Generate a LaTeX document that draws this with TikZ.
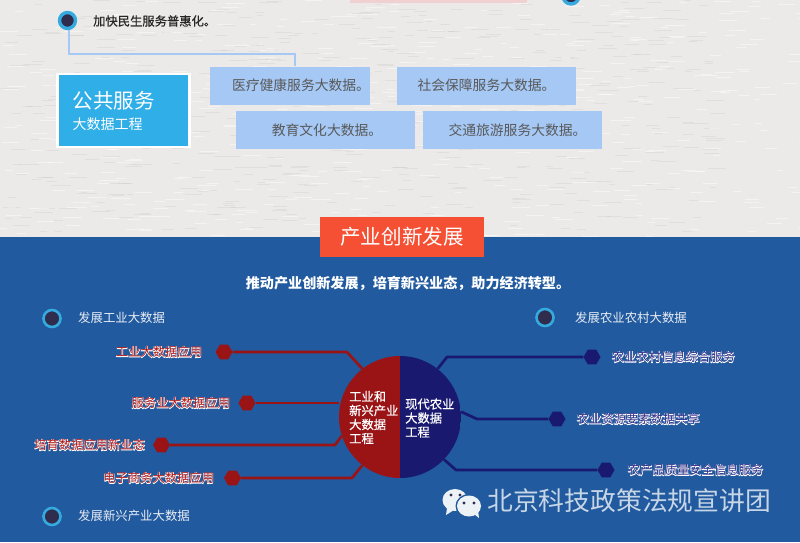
\documentclass[tikz,border=0pt]{standalone}
\usepackage{fontspec}
\setmainfont{Noto Sans CJK SC}
\newfontfamily\halofont[FakeBold=7]{Noto Sans CJK SC}
\newfontfamily\semifont[FakeBold=0.5]{Noto Sans CJK SC}
\usetikzlibrary{positioning, shapes.geometric, calc}
\definecolor{paperbg}{RGB}{235, 234, 232}
\definecolor{bandblue}{RGB}{33, 90, 159}
\definecolor{skyblue}{RGB}{48, 174, 232}
\definecolor{paleblue}{RGB}{165, 200, 245}
\definecolor{hubred}{RGB}{154, 20, 22}
\definecolor{hubnavy}{RGB}{25, 25, 112}
\definecolor{labred}{RGB}{178, 26, 26}
\definecolor{labnavy}{RGB}{44, 44, 135}
\definecolor{ringblue}{RGB}{52, 170, 222}
\definecolor{ringdark}{RGB}{48, 44, 78}
\definecolor{tagorange}{RGB}{245, 80, 52}
\definecolor{stripepink}{RGB}{240, 208, 208}
\newcommand{\halotext}[2]{\rlap{\halofont\color{white}#2}{\color{#1}#2}}

\begin{document}
\begin{tikzpicture}[
        x=1pt, y=-1pt,
        ring/.style={circle, draw=ringblue, line width=2.6pt, fill=ringdark, minimum size=17pt, inner sep=0pt},
        pale/.style={fill=paleblue, text=black!65, inner sep=0pt, minimum width=160pt, minimum height=38pt, font=\fontsize{13.8}{15}\selectfont},
        hexred/.style={regular polygon, regular polygon sides=6, fill=hubred, minimum size=17pt, inner sep=0pt},
        hexnavy/.style={regular polygon, regular polygon sides=6, fill=hubnavy, minimum size=17pt, inner sep=0pt},
        wire/.style={line width=2.7pt, line join=round},
        redwire/.style={wire, hubred},
        navywire/.style={wire, hubnavy},
        item/.style={text=white!90!bandblue, font=\fontsize{12.4}{14}\selectfont, inner sep=0pt},
        halo/.style={font=\fontsize{12.3}{14}\selectfont, inner sep=0pt},
        hubtext/.style={text=white, align=left, inner sep=0pt, font=\semifont\fontsize{12.3}{14}\selectfont}
      ]
        \useasboundingbox (0,0) rectangle (800,542);
        \fill[paperbg] (0,0) rectangle (800,542);
        % paper grain
        \pgfmathsetseed{7}
        \foreach \i in {1,...,500} {
          \pgfmathsetmacro{\gx}{rnd*800}
          \pgfmathsetmacro{\gy}{rnd*237}
          \pgfmathsetmacro{\gw}{6+rnd*14}
          \draw[white, line width=0.6pt, opacity=0.45] (\gx,\gy) -- ++(\gw,0);
          \draw[black!30, line width=0.4pt, opacity=0.18] (\gy*3,\gx*0.29) -- ++(\gw,0);
        }
        \fill[bandblue] (0,237) rectangle (800,542);
        % top strip
        \fill[stripepink] (350,0) rectangle (527,3);
        \begin{scope}
          \clip (0,0) rectangle (800,6);
          \node[ring, line width=3.4pt, minimum size=16pt] (ringtop) at (571,-4) {};
        \end{scope}

        % public service block
        \node[ring, line width=3.4pt, minimum size=16pt] (ringserve) at (67.5,20.5) {};
        \node[anchor=west, inner sep=0pt, text=black!85, font=\semifont\fontsize{12.3}{14}\selectfont] (speedup) at (93,21) {加快民生服务普惠化。};
        \node[pale] (medical) at (290,85.5) {\hspace*{22pt}医疗健康服务大数据。};
        \node[pale, minimum width=179pt] (social) at (486.5,85.5) {社会保障服务大数据。};
        \node[pale, minimum width=179pt] (education) at (325.5,130) {\hspace*{3pt}教育文化大数据。};
        \node[pale, minimum width=179pt] (traffic) at (512.5,130) {\hspace*{10pt}交通旅游服务大数据。};
        \node[draw=white, line width=2.5pt, fill=skyblue, minimum width=132pt, minimum height=73pt] (publicbox) at (123.5,110.5) {};
        \node[anchor=west, inner sep=0pt, text=white, font=\fontsize{20.5}{22}\selectfont] (publicname) at (72.5,101) {公共服务};
        \node[anchor=west, inner sep=0pt, text=white, font=\fontsize{14}{16}\selectfont] (publicsub) at (72.5,124) {大数据工程};
        \draw[paleblue, line width=2pt] ([xshift=1.5pt]ringserve.south) |- (294.5,54) -- (294.5,66);

        % industry band
        \node[fill=tagorange, minimum width=164pt, minimum height=40pt, text=white, font=\fontsize{20.6}{22}\selectfont] (tag) at (402,237) {产业创新发展};
        \node[text=white, inner sep=0pt, font=\bfseries\fontsize{14.1}{16}\selectfont] (motto) at (408,283) {推动产业创新发展，培育新兴业态，助力经济转型。};

        \node[ring] (ringind) at (52,318.5) {};
        \node[ring] (ringnew) at (52,516.5) {};
        \node[ring] (ringfarm) at (545,317.5) {};
        \node[item, anchor=west] (devind) at (78,318) {发展工业大数据};
        \node[item, anchor=west] (devnew) at (78,516) {发展新兴产业大数据};
        \node[item, anchor=west] (devfarm) at (575,318) {发展农业农村大数据};

        \node[hexred] (dotapp) at (224,352) {};
        \node[hexred] (dotserv) at (247,403) {};
        \node[hexred] (dotbiz) at (161.5,445) {};
        \node[hexred] (dotshop) at (232.5,478) {};
        \node[hexnavy] (dotinfo) at (592,357) {};
        \node[hexnavy] (dotres) at (557,419) {};
        \node[hexnavy] (dotqual) at (606,470) {};

        \node[halo, left=13pt of dotapp] (labapp) {\halotext{labred}{工业大数据应用}};
        \node[halo, left=8pt of dotserv] (labserv) {\halotext{labred}{服务业大数据应用}};
        \node[halo, left=7.5pt of dotbiz] (labbiz) {\halotext{labred}{培育数据应用新业态}};
        \node[halo, left=9.5pt of dotshop] (labshop) {\halotext{labred}{电子商务大数据应用}};
        \node[halo, right=11pt of dotinfo] (labinfo) {\halotext{labnavy}{农业农村信息综合服务}};
        \node[halo, right=11pt of dotres] (labres) {\halotext{labnavy}{农业资源要素数据共享}};
        \node[halo, right=13pt of dotqual] (labqual) {\halotext{labnavy}{农产品质量安全信息服务}};

        \node[circle, minimum size=122pt, inner sep=0pt, path picture={
            \fill[hubred] (path picture bounding box.north west) rectangle (path picture bounding box.south);
            \fill[hubnavy] (path picture bounding box.north) rectangle (path picture bounding box.south east);
          }] (hub) at (400,417) {};
        \draw[redwire] (dotapp) -- (347,352) -- (hub.128);
        \draw[redwire] (dotserv) -- (hub.west |- dotserv);
        \draw[redwire] (dotbiz) -- (335,445) -- (hub.198);
        \draw[redwire] (dotshop) -- (352,478) -- (hub.232);
        \draw[navywire] (dotinfo) -- (447,357) -- (hub.52);
        \draw[navywire] (dotres) -- (477,419) -- (hub.5);
        \draw[navywire] (dotqual) -- (456,470) -- (hub.-44);
        \node[hubtext, anchor=west] (hubleft) at (349,417.5) {工业和\\新兴产业\\大数据\\工程};
        \node[hubtext, anchor=west] (hubright) at (405,418) {现代农业\\大数据\\工程};

        % watermark
        \fill[white!92!bandblue] (455,500) ellipse (12.5 and 11);
        \fill[white!92!bandblue] (447,508) -- (446,515) -- (454,510) -- cycle;
        \fill[bandblue] (469,506) ellipse (13.5 and 12);
        \fill[white!92!bandblue] (469,506) ellipse (12 and 10.5);
        \fill[white!92!bandblue] (474,514) -- (479,518) -- (478,510) -- cycle;
        \foreach \px/\py in {451/495, 460/495, 464/503, 474/503}
          \fill[ringdark] (\px,\py) circle (1.6);
        \node[anchor=west, inner sep=0pt, text=white!75!bandblue, font=\fontsize{25.8}{28}\selectfont] (brand) at (487,501) {北京科技政策法规宣讲团};
      \end{tikzpicture}
\end{document}
